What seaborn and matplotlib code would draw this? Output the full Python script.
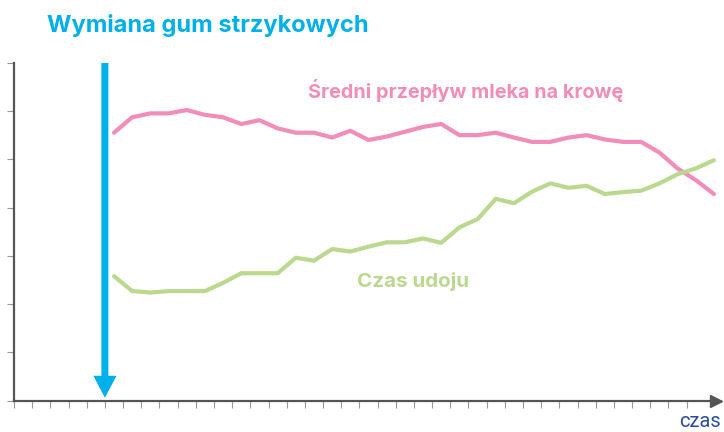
import numpy as np
import pandas as pd
import seaborn as sns
import matplotlib
matplotlib.use("Agg")
import matplotlib.pyplot as plt

# Time steps (in x-axis tick units) and the two measured series
time_steps = [5.5 + i for i in range(34)]
milk_flow = [55.5, 58.7, 59.5, 59.5, 60.2, 59.2, 58.7, 57.3, 58.1, 56.4,
             55.5, 55.5, 54.5, 55.9, 54.0, 54.7, 55.7, 56.7, 57.3, 55.0,
             55.0, 55.5, 54.5, 53.6, 53.6, 54.5, 55.0, 54.1, 53.6, 53.6,
             51.4, 48.1, 45.7, 42.8]
milking_time = [25.8, 22.7, 22.4, 22.7, 22.7, 22.7, 24.4, 26.4, 26.4, 26.4,
                29.6, 29.0, 31.4, 30.9, 31.9, 32.8, 32.8, 33.6, 32.7, 35.9,
                37.6, 41.8, 40.9, 43.3, 45.0, 44.1, 44.5, 42.8, 43.2, 43.5,
                45.0, 46.9, 48.1, 49.8]
series_names = ["Średni przepływ mleka na krowę", "Czas udoju"]
liner_change_at = 5

PINK = "#F28CB8"
GREEN = "#BAD98F"
BLUE = "#00B0EA"
NAVY = "#2B4C9E"
AXIS = "#555555"
TICK = "#9A9A9A"

df = pd.concat([
    pd.DataFrame({"czas": time_steps, "wartość": milk_flow, "seria": series_names[0]}),
    pd.DataFrame({"czas": time_steps, "wartość": milking_time, "seria": series_names[1]}),
])

sns.set_theme(style="white")
plt.rcParams["font.family"] = ["Inter", "DejaVu Sans"]

W, H = 724, 432
fig = plt.figure(figsize=(W / 100, H / 100), dpi=100)
ax = fig.add_axes([14 / W, (H - 400.7) / H, (723 - 14) / W, 338 / H])

sns.lineplot(data=df, x="czas", y="wartość", hue="seria",
             palette={series_names[0]: PINK, series_names[1]: GREEN},
             linewidth=3.0, legend=False, ax=ax)

ax.set_xlim(0, 39)
ax.set_ylim(0, 70)
ax.set_xticks(np.arange(0, 38))
ax.set_yticks(np.arange(0, 71, 10))
ax.set_xticklabels([])
ax.set_yticklabels([])
ax.set_xlabel("")
ax.set_ylabel("")
ax.tick_params(axis="both", direction="out", length=5, width=0.8, color=TICK,
               bottom=True, left=True)

for side in ("top", "right"):
    ax.spines[side].set_visible(False)
for side in ("left", "bottom"):
    ax.spines[side].set_color(AXIS)
    ax.spines[side].set_linewidth(1.6)
ax.spines["bottom"].set_bounds(0, 38.3)
ax.plot(38.63, 0, marker=">", markersize=9, color=AXIS, clip_on=False,
        transform=ax.transData)

# Liner change marker: a thick downward arrow
ax.arrow(liner_change_at, 70, 0, -69.4, width=0.385, head_width=1.27,
         head_length=4.56, length_includes_head=True, color=BLUE,
         linewidth=0, zorder=5)

fig.text(46.7 / W, (H - 31.7) / H, "Wymiana gum strzykowych", color=BLUE,
         fontsize=17, fontweight="bold", ha="left", va="baseline")
fig.text(308 / W, (H - 98.3) / H, series_names[0], color=PINK,
         fontsize=14.3, fontweight="bold", ha="left", va="baseline")
fig.text(356.7 / W, (H - 286.7) / H, series_names[1], color=GREEN,
         fontsize=14.8, fontweight="bold", ha="left", va="baseline")
fig.text(720.7 / W, 0.8 / H, "czas", color=NAVY, fontsize=14.5,
         family=["Roboto", "DejaVu Sans"], ha="right", va="bottom")

fig.savefig("out.png", dpi=100)
